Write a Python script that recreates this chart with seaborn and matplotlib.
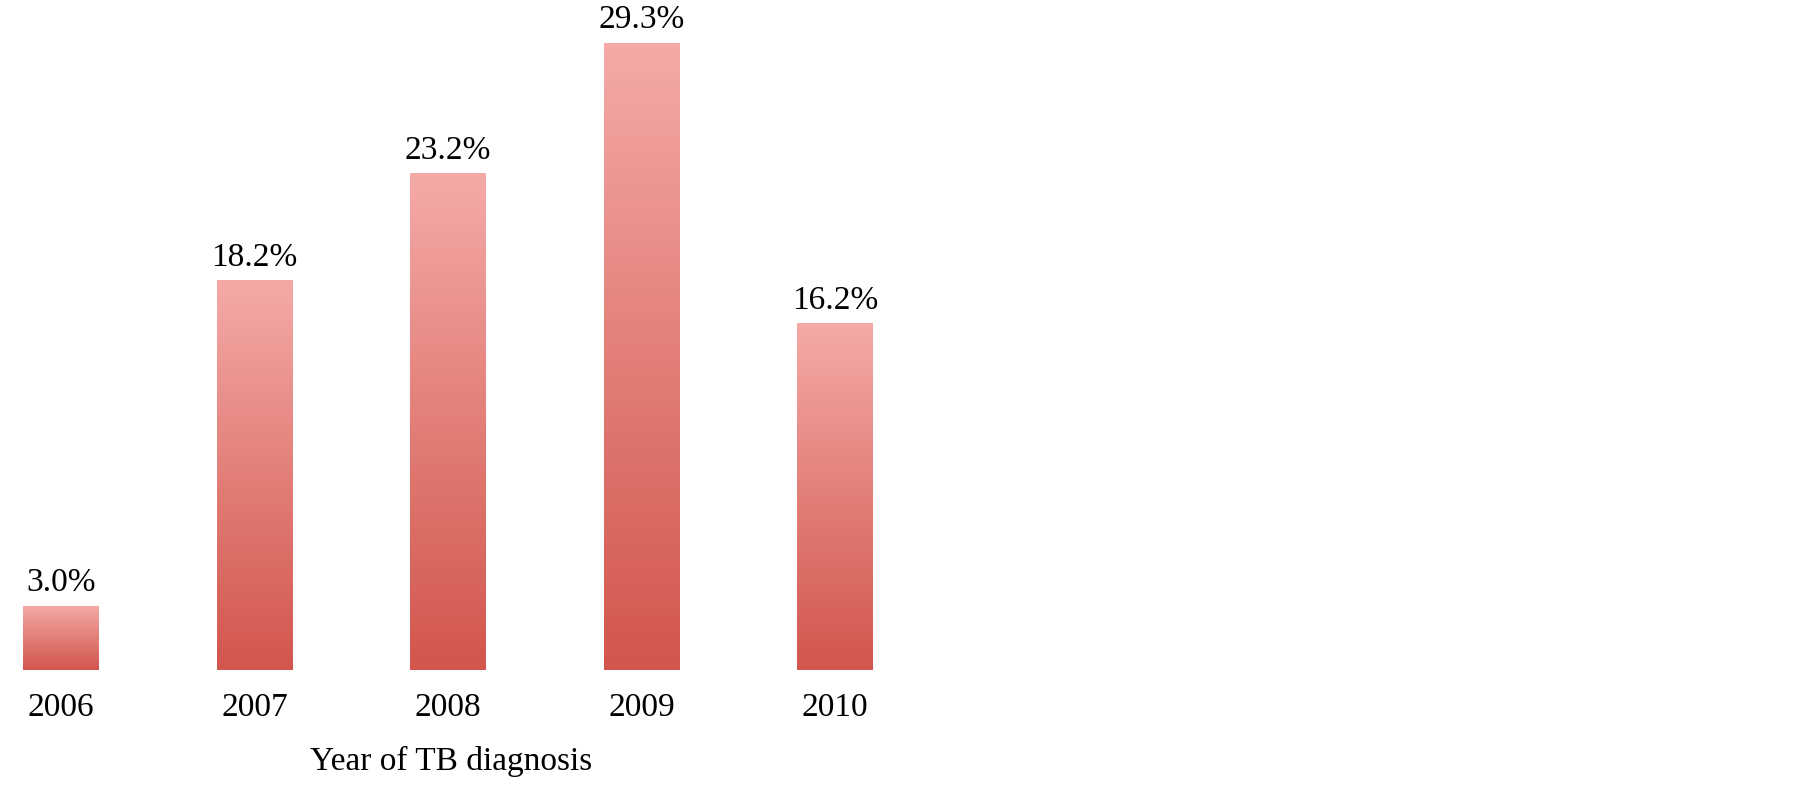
import matplotlib.pyplot as plt
import seaborn as sns
import numpy as np
import pandas as pd
from matplotlib.colors import LinearSegmentedColormap

# data
years = ["2006", "2007", "2008", "2009", "2010"]
share = [3.0, 18.2, 23.2, 29.3, 16.2]
value_labels = ["3.0%", "18.2%", "23.2%", "29.3%", "16.2%"]

df = pd.DataFrame({"year": years, "share": share})

sns.set_theme(style="white")
plt.rcParams["font.family"] = ["Liberation Serif", "DejaVu Serif"]

fig = plt.figure(figsize=(18.05, 7.88), dpi=100)
ax = fig.add_axes([0, 118 / 788, 1, 670 / 788])

sns.barplot(data=df, x="year", y="share", order=years, width=0.39,
            color="#E07A73", saturation=1, ax=ax)

# vertical gradient on each bar, light pink on top -> red at the bottom
grad_cmap = LinearSegmentedColormap.from_list("bar", ["#D2564D", "#E27F78", "#F5AAA8"])
grad = np.linspace(0, 1, 256).reshape(-1, 1)
for p in ax.patches:
    x0, y0 = p.get_x(), p.get_y()
    w, h = p.get_width(), p.get_height()
    p.set_facecolor("none")
    p.set_edgecolor("none")
    im = ax.imshow(grad, cmap=grad_cmap, aspect="auto", origin="lower",
                   extent=(x0, x0 + w, y0, y0 + h), zorder=2)
    im.set_clip_path(p)

for i, (v, lab) in enumerate(zip(share, value_labels)):
    ax.text(i, v + 0.35, lab, ha="center", va="bottom", fontsize=24, color="black")

ax.set_xlim(-0.315, 9.01)
ax.set_ylim(0, 31.3)
ax.set_yticks([])
ax.set_ylabel("")
ax.tick_params(axis="x", length=0, pad=16, labelsize=24, colors="black")
ax.set_xlabel("Year of TB diagnosis", fontsize=24, color="black")
ax.xaxis.set_label_coords(451 / 1805, -0.136)
ax.xaxis.label.set_va("center")
sns.despine(ax=ax, left=True, bottom=True)

fig.savefig("out.png", dpi=100)
